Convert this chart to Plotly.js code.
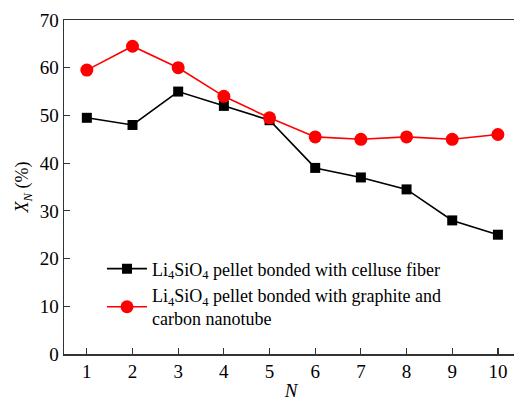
<!DOCTYPE html>
<html>
<head>
<meta charset="utf-8">
<script src="https://cdn.plot.ly/plotly-3.0.1.min.js"></script>
<style>html,body{margin:0;padding:0;overflow:hidden;background:#fff;}#chart{width:520px;height:401px;}</style>
</head>
<body>
<div id="chart"></div>
<script>
const cycles = [1, 2, 3, 4, 5, 6, 7, 8, 9, 10];
const celluloseFiber = [49.5, 48, 55, 52, 49, 39, 37, 34.5, 28, 25];
const graphiteCNT = [59.5, 64.5, 60, 54, 49.5, 45.5, 45, 45.5, 45, 46];
const seriesNames = [
  "Li<sub>4</sub>SiO<sub>4</sub> pellet bonded with celluse fiber",
  "Li<sub>4</sub>SiO<sub>4</sub> pellet bonded with graphite and<br>carbon nanotube"
];
const yTicks = [0, 10, 20, 30, 40, 50, 60, 70];

const fam = "Liberation Serif, Times New Roman, serif";

const traces = [
  {x: cycles, y: celluloseFiber, name: seriesNames[0], mode: "lines+markers",
   line: {color: "#000", width: 1.6}, marker: {symbol: "square", size: 10, color: "#000"}},
  {x: cycles, y: graphiteCNT, name: seriesNames[1], mode: "lines+markers",
   line: {color: "#ff0000", width: 1.6}, marker: {symbol: "circle", size: 13, color: "#ff0000"}}
];

const layout = {
  width: 520, height: 401,
  margin: {l: 64, r: 2, t: 20, b: 47},
  paper_bgcolor: "#fff", plot_bgcolor: "#fff",
  font: {family: fam, color: "#000", size: 18},
  showlegend: true,
  legend: {x: 0.0837, y: 0.31, xanchor: "left", yanchor: "top", bgcolor: "rgba(0,0,0,0)",
           font: {family: fam, size: 18, color: "#000"}, tracegroupgap: 0, itemwidth: 40},
  xaxis: {range: [0.5, 10.44], tickvals: cycles, ticks: "inside", ticklen: 6, tickwidth: 1.2,
          tickcolor: "#333", showline: true, linecolor: "#333", linewidth: 1.5, mirror: true,
          showgrid: false, zeroline: false, tickfont: {family: fam, size: 19, color: "#000"},
          title: {text: "<i>N</i>", font: {family: fam, size: 19, color: "#000"}, standoff: 4}},
  yaxis: {range: [0, 70], tickvals: yTicks, ticks: "inside", ticklen: 6, tickwidth: 1.2,
          tickcolor: "#333", showline: true, linecolor: "#333", linewidth: 1.5, mirror: true,
          showgrid: false, zeroline: false, tickfont: {family: fam, size: 19, color: "#000"},
          title: {text: "<i>X</i><sub><i>N</i></sub> (%)", font: {family: fam, size: 18, color: "#000"}, standoff: 6}}
};

Plotly.newPlot("chart", traces, layout, {displayModeBar: false, staticPlot: true});
</script>
</body>
</html>
